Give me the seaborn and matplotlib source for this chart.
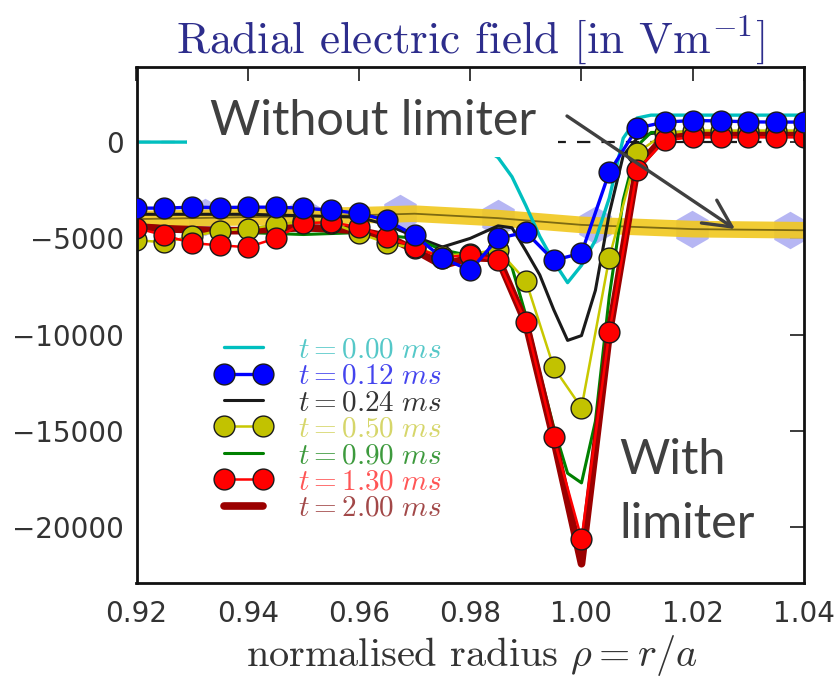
import matplotlib
matplotlib.use("Agg")
import matplotlib.pyplot as plt
import matplotlib.font_manager as fm
import seaborn as sns
from matplotlib.patches import Rectangle

# ---------------- data ----------------
rho_m = [0.920, 0.925, 0.930, 0.935, 0.940, 0.945, 0.950, 0.955, 0.960, 0.965,
         0.970, 0.975, 0.980, 0.985, 0.990, 0.995, 1.000, 1.005, 1.010, 1.015,
         1.020, 1.025, 1.030, 1.035, 1.040]
E_012 = [-3430, -3430, -3380, -3400, -3380, -3380, -3430, -3540, -3700, -4060,
         -4840, -6030, -6660, -5000, -4680, -6140, -5770, -1560, 730, 1040,
         1120, 1100, 1050, 1040, 1040]
E_050 = [-5100, -5200, -4900, -4600, -4500, -4300, -4100, -4200, -4730, -5250,
         -5500, -5900, -5800, -5600, -7200, -11700, -13800, -6000, -550, 450,
         600, 600, 600, 600, 600]
E_130 = [-4470, -4840, -5250, -5360, -5460, -5000, -4210, -4160, -4420, -4940,
         -5460, -6000, -5850, -6150, -9360, -15340, -20600, -9880, -1460, 100,
         250, 250, 250, 250, 250]
E_200 = [-4400, -4500, -4550, -4600, -4600, -4500, -4450, -4500, -4600, -4900,
         -5600, -6400, -6000, -6050, -9400, -15400, -21900, -9900, -1300, 300,
         400, 400, 400, 400, 400]

rho_c = [0.92, 0.975, 0.98, 0.9825, 0.985, 0.9875, 0.99, 0.9925, 0.995, 0.9975,
         1.0, 1.0025, 1.005, 1.0075, 1.01, 1.0125, 1.04]
E_000 = [0, 0, -100, -350, -800, -1800, -3300, -4900, -6200, -7300,
         -6400, -5100, -2900, 200, 1250, 1400, 1400]

rho_k = [0.92, 0.94, 0.96, 0.965, 0.97, 0.975, 0.98, 0.985, 0.9875, 0.99, 0.9925,
         0.995, 0.9975, 1.0, 1.0025, 1.005, 1.0075, 1.01, 1.0125, 1.015, 1.04]
E_024 = [-3750, -3750, -3900, -4300, -4900, -5450, -5000, -4350, -4450, -5650, -6900,
         -8700, -10300, -10050, -7700, -3700, -700, 200, 450, 500, 500]

rho_g = [0.92, 0.93, 0.94, 0.95, 0.96, 0.97, 0.975, 0.98, 0.985, 0.9875, 0.99,
         0.9925, 0.995, 0.9975, 1.0, 1.0025, 1.005, 1.0075, 1.01, 1.0125, 1.04]
E_090 = [-4300, -4500, -4700, -4800, -4700, -5000, -5600, -5900, -5700, -6500, -9000,
         -12000, -14800, -17200, -17700, -14500, -8000, -3000, -200, 500, 550]

# "without limiter" curve
rho_nl = [0.92, 0.96, 0.97, 0.985, 1.0, 1.02, 1.04]
E_nl = [-4000, -3800, -3720, -3950, -4300, -4520, -4580]
rho_hex = [0.9324, 0.9499, 0.9674, 0.9849, 1.0024, 1.0199, 1.0374]
E_hex = [-3900, -3830, -3700, -3950, -4330, -4520, -4570]

labels = [r"$t=0.00\ ms$", r"$t=0.12\ ms$", r"$t=0.24\ ms$", r"$t=0.50\ ms$",
          r"$t=0.90\ ms$", r"$t=1.30\ ms$", r"$t=2.00\ ms$"]
x_ticks = [0.92, 0.94, 0.96, 0.98, 1.00, 1.02, 1.04]
y_ticks = [0, -5000, -10000, -15000, -20000]

# ---------------- style ----------------
sns.set_theme(style="white")
names = {f.name for f in fm.fontManager.ttflist}
if "DejaVu Sans Condensed" in names:
    tick_family, tick_fs = ["DejaVu Sans Condensed", "DejaVu Sans"], 22
else:
    tick_family, tick_fs = ["DejaVu Sans"], 20
plt.rcParams["font.family"] = tick_family
plt.rcParams["mathtext.fontset"] = "cm"
plt.rcParams["axes.unicode_minus"] = True

W, H = 839, 678
fig = plt.figure(figsize=(W / 100, H / 100), dpi=100)
fig.patch.set_facecolor("white")
L, R, B, T = 136.5, 804, 583, 67
ax = fig.add_axes([L / W, 1 - B / H, (R - L) / W, (B - T) / H])
ax.set_facecolor("white")

# without-limiter band (behind)
sns.lineplot(x=rho_hex, y=E_hex, ax=ax, color="#a9a9f2", lw=0, marker="h",
             markersize=27, markeredgecolor="#a9a9f2", markeredgewidth=0,
             alpha=0.85, zorder=0.8, legend=False, estimator=None, errorbar=None)
sns.lineplot(x=rho_nl, y=E_nl, ax=ax, color="#f1c81e", lw=12, alpha=0.9,
             zorder=1.0, legend=False, estimator=None, errorbar=None)
sns.lineplot(x=rho_nl, y=E_nl, ax=ax, color="#7d6a12", lw=1.3,
             zorder=1.1, legend=False, estimator=None, errorbar=None)

ax.axhline(0, color="k", ls="--", lw=1.6, dashes=(6, 5), zorder=1.2)

common = dict(ax=ax, legend=False, estimator=None, errorbar=None)
mk = dict(marker="o", markersize=15, markeredgecolor="#1a1a1a", markeredgewidth=1.0)
sns.lineplot(x=rho_c, y=E_000, color="#00bfbf", lw=2.4, zorder=2.0, **common)
sns.lineplot(x=rho_k, y=E_024, color="k", lw=2.2, zorder=2.1, **common)
sns.lineplot(x=rho_g, y=E_090, color="#008000", lw=2.2, zorder=2.2, **common)
sns.lineplot(x=rho_m, y=E_200, color="#9b0000", lw=5.5, zorder=2.3, **common)
sns.lineplot(x=rho_m, y=E_050, color="#c8c800", lw=1.8, zorder=2.4, **mk,
             markerfacecolor="#c2c200", **common)
sns.lineplot(x=rho_m, y=E_130, color="#ff0000", lw=1.8, zorder=2.5, **mk,
             markerfacecolor="#ff0000", **common)
sns.lineplot(x=rho_m, y=E_012, color="#0000ff", lw=2.4, zorder=2.6, **mk,
             markerfacecolor="#0000ff", **common)

lines = ax.get_lines()
cyan_l, black_l, green_l, dred_l, yel_l, red_l, blue_l = lines[4:11]
handles = [cyan_l, blue_l, black_l, yel_l, green_l, red_l, dred_l]
text_colors = ["#55c8c8", "#4444ee", "#333333", "#d6d66a", "#3d9a3d", "#ff5555", "#a24848"]

ax.set_xlim(0.92, 1.04)
ax.set_ylim(-22900, 3900)
ax.set_xticks(x_ticks)
ax.set_xticklabels([f"{v:.2f}" for v in x_ticks])
ax.set_yticks(y_ticks)
ax.set_yticklabels([f"\u2212{abs(v)}" if v < 0 else f"{v}" for v in y_ticks])
ax.tick_params(direction="in", length=10, width=1.2, top=True, right=True,
               labelsize=tick_fs, colors="#1a1a1a", labelcolor="#333333")
ax.tick_params(axis="x", pad=12)
ax.tick_params(axis="y", pad=9)
for s in ax.spines.values():
    s.set_color("#111111")
    s.set_linewidth(2.0)
ax.grid(False)

leg = ax.legend(handles, labels, loc="upper left", bbox_to_anchor=(0.1176, 0.4767),
                frameon=False, prop={"family": "cmr10", "size": 21},
                labelspacing=0.0, handlelength=1.95, handletextpad=0.9,
                borderpad=0, borderaxespad=0, numpoints=2)
for t, c in zip(leg.get_texts(), text_colors):
    t.set_color(c)

# title and x label
fig.text(470 / W, 1 - 53 / H, r"Radial electric field [in Vm$^{-1}$]",
         ha="center", va="baseline", fontsize=32.5, color="#2d2d8c", family="cmr10")
fig.text(472 / W, 1 - 666 / H, r"normalised radius $\rho = r/a$",
         ha="center", va="baseline", fontsize=29, color="#333333", family="cmr10")

# annotation overlay
fig.add_artist(Rectangle((187 / W, 1 - 157 / H), 371 / W, 67 / H,
                         transform=fig.transFigure, facecolor="white",
                         edgecolor="none", zorder=5))
fig.text(210 / W, 1 - 135 / H, "Without limiter", ha="left", va="baseline",
         fontsize=35, color="#404040", family="Lato", zorder=6)
fig.text(619 / W, 1 - 474 / H, "With", ha="left", va="baseline",
         fontsize=35, color="#404040", family="Lato", zorder=6)
fig.text(619 / W, 1 - 538 / H, "limiter", ha="left", va="baseline",
         fontsize=35, color="#404040", family="Lato", zorder=6)
ann = fig.add_artist(matplotlib.text.Annotation(
    "", xy=(735 / W, 1 - 229 / H), xytext=(567 / W, 1 - 116 / H),
    xycoords="figure fraction", textcoords="figure fraction",
    arrowprops=dict(arrowstyle="->,head_length=0.9,head_width=0.45",
                    color="#404040", lw=2.4, mutation_scale=22,
                    shrinkA=0, shrinkB=0)))
ann.set_zorder(6)

fig.savefig("out.png", dpi=100, facecolor="white")
